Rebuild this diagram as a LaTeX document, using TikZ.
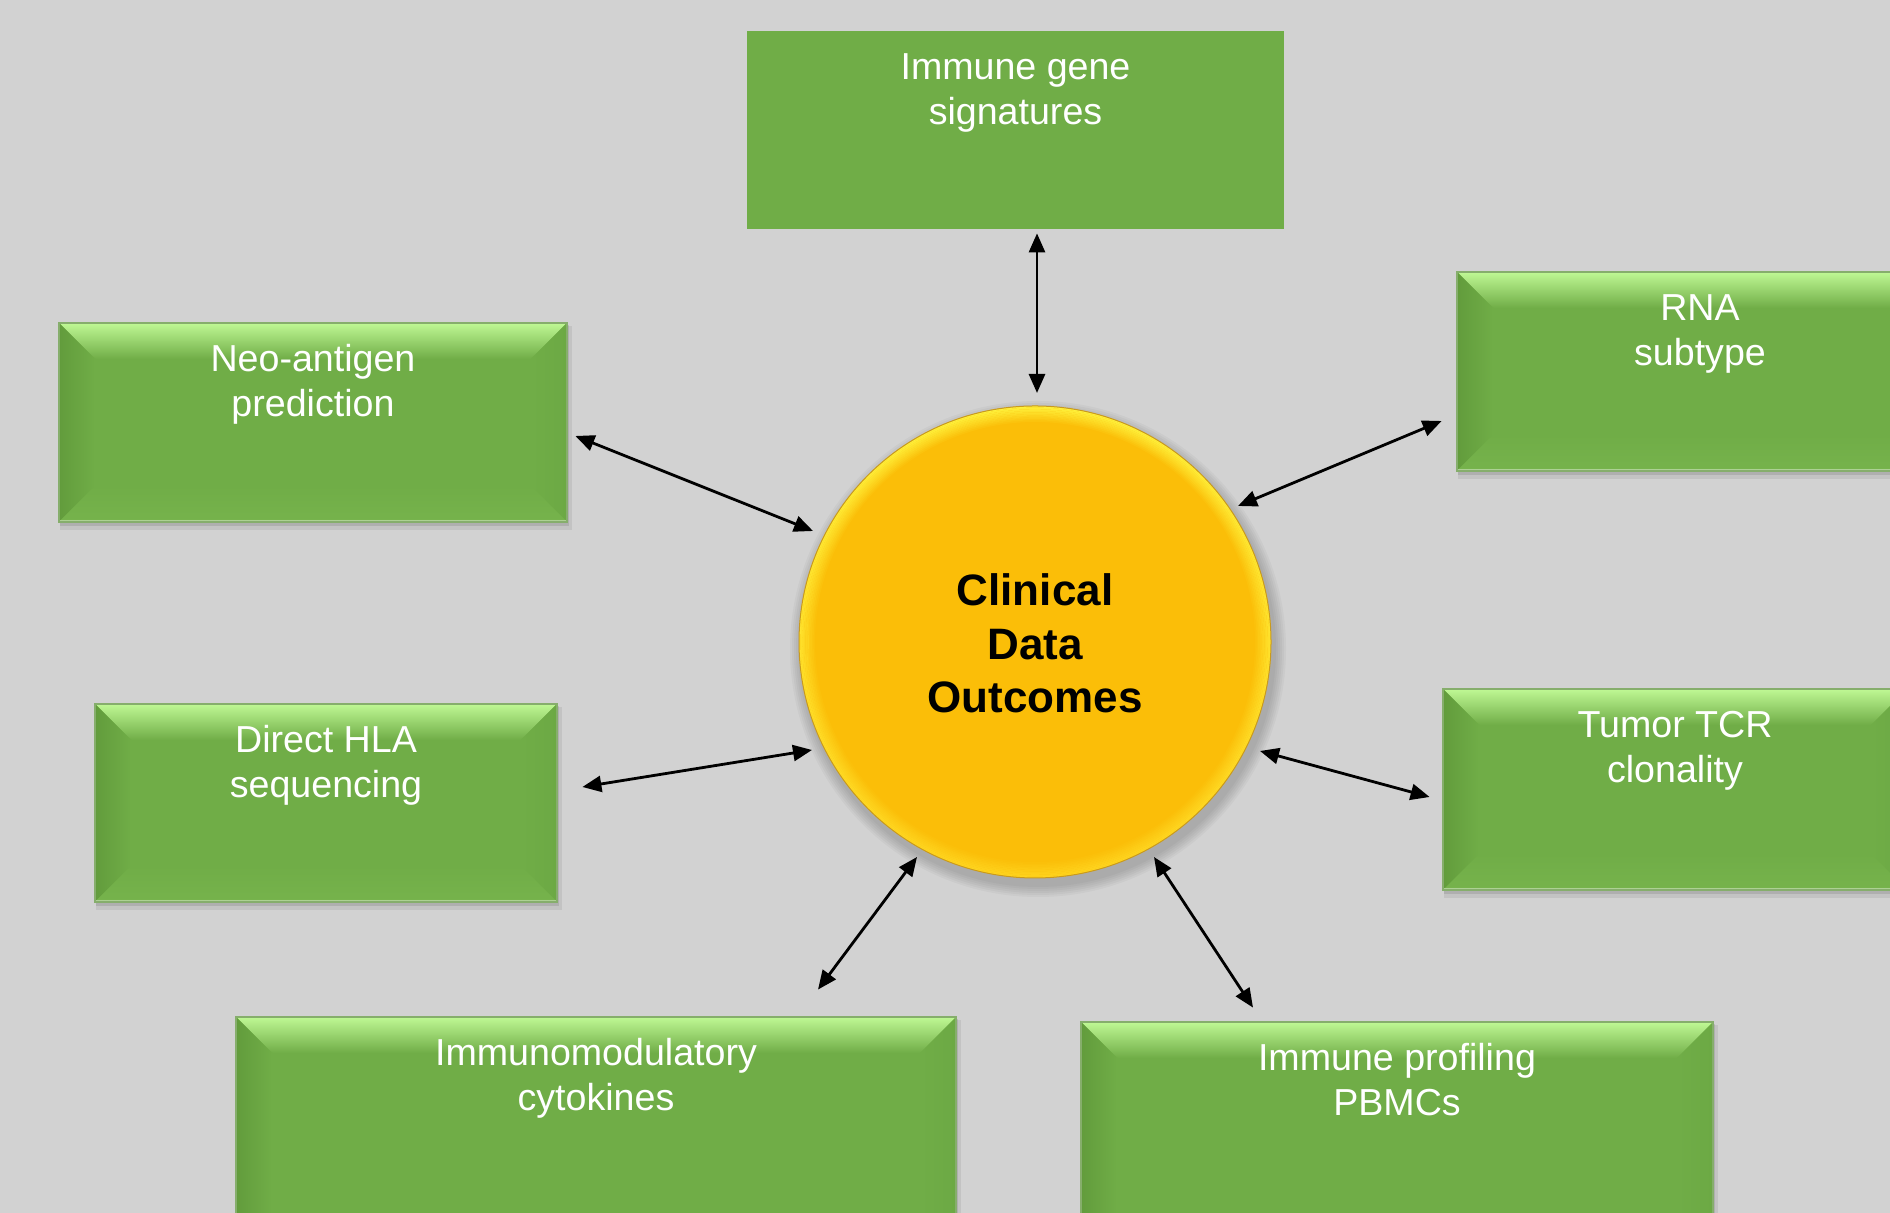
\documentclass[tikz,border=0pt]{standalone}
\usepackage{fontspec}
\setmainfont{Liberation Sans}
\usetikzlibrary{arrows.meta,fit,calc}
\definecolor{bg}{HTML}{D2D2D2}
\definecolor{grn}{HTML}{70AD47}
\definecolor{grnlt}{HTML}{BFF894}
\definecolor{grndk}{HTML}{629C3C}
\definecolor{grnrt}{HTML}{6CA944}
\definecolor{grnbt}{HTML}{76B34C}
\definecolor{grnedge}{HTML}{86AE6C}
\definecolor{gold}{HTML}{FBBE08}
\definecolor{rimtop}{HTML}{FFF23C}
\definecolor{rimmid}{HTML}{F2B502}
\definecolor{rimbot}{HTML}{FFD41E}
\definecolor{rimedge}{HTML}{C99A1E}
\tikzset{
  boxtxt/.style={text=white, inner sep=0pt, align=center,
    font=\fontsize{18.8}{22.5}\selectfont},
  arr/.style={line width=1.4pt, <->, >={Triangle[length=9.5pt,width=8pt]}},
  boxnode/.style={inner sep=0pt, draw=none}
}
% bevelled box: name, x0, y0, x1, y1, text
\newcommand\bevbox[6]{%
  \fill[black,opacity=.07] (#2+1,#3-8) rectangle (#4+5,#5-3);
  \fill[black,opacity=.10] (#2+1,#3-4) rectangle (#4+2,#5-2);
  \fill[grn] (#2,#3) rectangle (#4,#5);
  \shade[top color=grnlt, middle color=grn!85!grnlt, bottom color=grn]
    (#2,#5) -- (#4,#5) -- (#4-36,#5-36) -- (#2+36,#5-36) -- cycle;
  \shade[left color=grndk, right color=grn]
    (#2,#5) -- (#2+36,#5-36) -- (#2+36,#3+36) -- (#2,#3) -- cycle;
  \shade[left color=grn, right color=grnrt]
    (#4,#5) -- (#4-36,#5-36) -- (#4-36,#3+36) -- (#4,#3) -- cycle;
  \shade[top color=grn, bottom color=grnbt]
    (#2,#3) -- (#4,#3) -- (#4-36,#3+36) -- (#2+36,#3+36) -- cycle;
  \draw[grnbt!60!white, line width=1pt] (#2+1,#3+1) -- (#4-1,#3+1);
  \draw[grnedge, line width=0.6pt] (#2,#3) rectangle (#4,#5);
  \node[boxnode, fit={(#2,#3) (#4,#5)}] (#1) {};
  \node[boxtxt, anchor=north] at ([yshift=-8.5pt]#1.north) {\strut #6};
}
\begin{document}
\begin{tikzpicture}[x=0.5pt,y=0.5pt]
\useasboundingbox (0,0) rectangle (1890,1213);
\clip (0,0) rectangle (1890,1213);
\fill[bg] (0,0) rectangle (1890,1213);

% top flat box
\fill[grn] (747,984) rectangle (1284,1182);
\node[boxnode, fit={(747,984) (1284,1182)}] (top) {};
\node[boxtxt, anchor=north] at ([yshift=-8.5pt]top.north) {\strut Immune gene\\signatures};

% bevelled boxes
\bevbox{neo}{59}{691}{567}{890}{Neo-antigen\\prediction}
\bevbox{rna}{1457}{742}{1943}{941}{RNA\\subtype}
\bevbox{hla}{95}{311}{557}{509}{Direct HLA\\sequencing}
\bevbox{tcr}{1443}{323}{1907}{524}{Tumor TCR\\clonality}
\bevbox{imm}{236}{-40}{956}{196}{Immunomodulatory\\cytokines}
\bevbox{pro}{1081}{-40}{1713}{191}{Immune profiling\\PBMCs}

% central circle
\coordinate (cc) at (1035,571);
\foreach \k in {1,...,6}
  \fill[black,opacity=.03] ([shift={(3,-7)}]cc) circle[radius={118pt+\k*1pt}];
\fill[gold] (cc) circle[radius=118pt];
\foreach \k in {0,...,9}
  \shade[even odd rule, opacity={1-\k/10}, top color=rimtop, middle color=rimmid, bottom color=rimbot]
    (cc) circle[radius={118pt-\k*0.8pt}] (cc) circle[radius={118pt-(\k+1)*0.8pt}];
\draw[rimedge, line width=0.5pt] (cc) circle[radius=118pt];
\node[circle, minimum size=236pt, inner sep=0pt, align=center,
  font=\fontsize{22}{26.75}\selectfont\bfseries] (cir) at ([yshift=-0.8pt]cc) {Clinical\\Data\\Outcomes};

% connectors
\draw[arr] ([shift={(21.5,-4)}]top.south) -- ([shift={(2,249)}]cc);
\draw[arr] ([shift={(8,-13.5)}]neo.east) -- ([shift={(-222,111)}]cc);
\draw[arr] ([shift={(-15,-49.5)}]rna.west) -- ([shift={(203,136)}]cc);
\draw[arr] ([shift={(25,16)}]hla.east) -- ([shift={(-223,-108)}]cc);
\draw[arr] ([shift={(-13,-7.5)}]tcr.west) -- ([shift={(225,-109)}]cc);
\draw[arr] ([shift={(222,27)}]imm.north) -- ([shift={(-118,-215)}]cc);
\draw[arr] ([shift={(-144,14)}]pro.north) -- ([shift={(119,-215)}]cc);
\end{tikzpicture}
\end{document}
